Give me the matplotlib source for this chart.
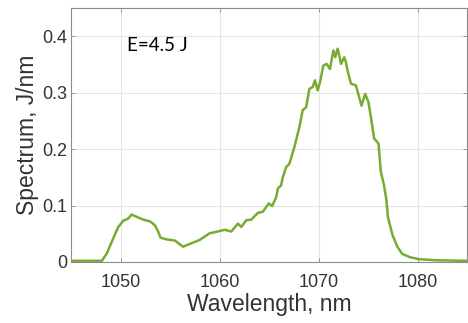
import matplotlib.pyplot as plt
import numpy as np

# spectrum
wavelength = [1045.0, 1048.1, 1048.6, 1049.26, 1049.76, 1050.27, 1050.77, 1051.11, 1051.62,
              1052.28, 1052.96, 1053.46, 1053.79, 1054.03, 1054.64, 1055.47, 1056.31, 1056.98,
              1057.99, 1059.0, 1059.33, 1060.51, 1061.18, 1061.85, 1062.19, 1062.69, 1063.2,
              1063.86, 1064.37, 1064.97, 1065.31, 1065.72, 1065.88, 1066.22, 1066.35, 1066.72,
              1067.05, 1067.56, 1068.06, 1068.39, 1068.74, 1069.07, 1069.4, 1069.64, 1069.9,
              1070.15, 1070.48, 1070.81, 1071.15, 1071.49, 1071.69, 1071.92, 1072.09, 1072.26,
              1072.59, 1072.76, 1072.93, 1073.27, 1073.77, 1074.1, 1074.34, 1074.71, 1075.04,
              1075.28, 1075.61, 1076.05, 1076.29, 1076.62, 1076.85, 1077.0, 1077.46, 1077.96,
              1078.46, 1079.31, 1080.15, 1081.83, 1084.85, 1085.0]
spectrum = [0.002, 0.002, 0.015, 0.042, 0.062, 0.073, 0.077, 0.084, 0.080,
            0.075, 0.072, 0.065, 0.054, 0.043, 0.040, 0.038, 0.027, 0.032,
            0.039, 0.051, 0.052, 0.057, 0.054, 0.068, 0.062, 0.074, 0.075,
            0.087, 0.089, 0.104, 0.099, 0.115, 0.130, 0.136, 0.148, 0.168,
            0.174, 0.204, 0.239, 0.269, 0.274, 0.307, 0.310, 0.322, 0.304,
            0.319, 0.348, 0.351, 0.342, 0.375, 0.363, 0.378, 0.366, 0.351,
            0.363, 0.354, 0.339, 0.316, 0.313, 0.292, 0.277, 0.298, 0.283,
            0.257, 0.219, 0.210, 0.160, 0.135, 0.110, 0.080, 0.048, 0.027,
            0.014, 0.008, 0.005, 0.003, 0.002, 0.002]
xticks = [1050, 1060, 1070, 1080]
yticks = [0, 0.1, 0.2, 0.3, 0.4]
ytick_labels = ['0', '0.1', '0.2', '0.3', '0.4']
label = 'E=4.5 J'

plt.rcParams['font.family'] = ['Liberation Sans', 'DejaVu Sans']
fig = plt.figure(figsize=(4.68, 3.23), dpi=100)
ax = fig.add_axes([0.152, 0.189, 0.846, 0.786])

ax.plot(wavelength, spectrum, color='#77ac30', lw=1.8)
ax.set_xlim(1045, 1085)
ax.set_ylim(0, 0.45)
ax.set_xticks(xticks)
ax.set_yticks(yticks)
ax.set_yticklabels(ytick_labels)
ax.grid(True, color='#e4e4e4', lw=0.8)
ax.set_axisbelow(True)
ax.tick_params(direction='in', length=3, width=0.6, colors='#888888',
               labelcolor='#333333', labelsize=13, top=True, right=True)
ax.tick_params(axis='x', pad=9)
ax.tick_params(axis='y', pad=3)
for s in ax.spines.values():
    s.set_color('#8c8c8c')
    s.set_linewidth(0.8)

ax.set_xlabel('Wavelength, nm', fontsize=16.5, color='#333333', labelpad=1)
ax.set_ylabel('Spectrum, J/nm', fontsize=16.5, color='#333333', labelpad=2)
ax.text(1050.6, 0.383, label, fontsize=13.5, family=['Lato', 'DejaVu Sans'],
        color='black', va='center', ha='left')

fig.savefig('out.png', dpi=100)
